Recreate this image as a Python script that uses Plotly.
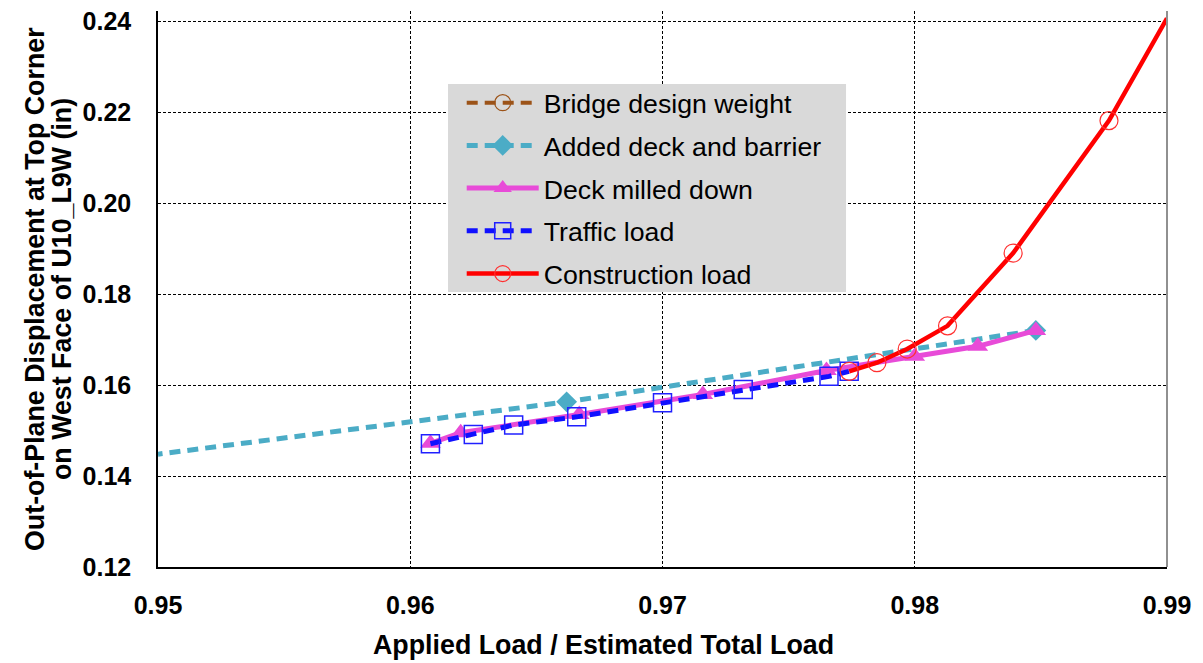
import plotly.graph_objects as go

# Load ratio (x) and out-of-plane displacement in inches (y) for each stage
design_x = [None]
design_y = [None]

# listed right to left; the 0.95 end carries no marker
deck_barrier_x = [0.9848, 0.9662, 0.9500]
deck_barrier_y = [0.1720, 0.1563, 0.1448]
deck_barrier_shown = [True, True, False]

milled_x = [0.9608, 0.9620, 0.9667, 0.9716, 0.9765, 0.9800, 0.9825, 0.9848]
milled_y = [0.1472, 0.1495, 0.1535, 0.1579, 0.1632, 0.1663, 0.1685, 0.1720]

traffic_x = [0.9608, 0.9625, 0.9641, 0.9666, 0.9700, 0.9732, 0.9766, 0.9774]
traffic_y = [0.1471, 0.1491, 0.1512, 0.1530, 0.1561, 0.1590, 0.1619, 0.1630]

construction_x = [0.9774, 0.9785, 0.9797, 0.9813, 0.9839, 0.9877, 0.9900]
construction_y = [0.1630, 0.1649, 0.1679, 0.1730, 0.1890, 0.2181, 0.2406]
construction_shown = [True, True, True, True, True, True, False]

x_ticks = [0.95, 0.96, 0.97, 0.98, 0.99]
y_ticks = [0.12, 0.14, 0.16, 0.18, 0.20, 0.22, 0.24]

FONT = "Liberation Sans, Arial, sans-serif"
DASH = "11px,7px"
CLEAR = "rgba(0,0,0,0)"


def marker_colors(color, shown):
    return [color if s else CLEAR for s in shown]


fig = go.Figure()

fig.add_trace(go.Scatter(
    x=design_x, y=design_y, name="Bridge design weight", legendgroup="a",
    mode="lines+markers",
    line=dict(color="#9c5318", width=4, dash=DASH),
    marker=dict(symbol="circle-open", size=16, color="#9c5318", line=dict(width=1.2)),
))
fig.add_trace(go.Scatter(
    x=deck_barrier_x, y=deck_barrier_y, name="Added deck and barrier", legendgroup="b",
    mode="lines+markers",
    line=dict(color="#4bacc6", width=5, dash=DASH),
    marker=dict(symbol="diamond", size=16,
                color=marker_colors("#4bacc6", deck_barrier_shown), line=dict(width=0)),
))
fig.add_trace(go.Scatter(
    x=milled_x, y=milled_y, name="Deck milled down", legendgroup="c",
    mode="lines+markers",
    line=dict(color="#e84bd8", width=5),
    marker=dict(symbol="triangle-up", size=18, color="#e84bd8"),
))
fig.add_trace(go.Scatter(
    x=traffic_x, y=traffic_y, name="Traffic load", legendgroup="d",
    mode="lines+markers",
    line=dict(color="#1010ff", width=5, dash=DASH),
    marker=dict(symbol="square-open", size=18, color="#2020ff", line=dict(width=1.5)),
))
fig.add_trace(go.Scatter(
    x=construction_x, y=construction_y, name="Construction load", legendgroup="e",
    mode="lines+markers",
    line=dict(color="#ff0000", width=4.5),
    marker=dict(symbol="circle-open", size=18,
                color=marker_colors("#ff3030", construction_shown), line=dict(width=1.2)),
))

title_font = dict(size=26.8, family=FONT, color="black", weight="bold")

fig.update_layout(
    width=1203, height=663,
    margin=dict(l=158, r=36, t=11, b=96, autoexpand=False),
    paper_bgcolor="white", plot_bgcolor="white",
    font=dict(family=FONT, color="black"),
    showlegend=True,
    legend=dict(
        x=0.301, y=0.878, xanchor="left", yanchor="top",
        bgcolor=CLEAR, borderwidth=0,
        font=dict(size=26.7, family=FONT, color="black"),
        itemwidth=72, tracegroupgap=5, itemsizing="trace",
    ),
    xaxis=dict(
        range=[0.95, 0.99], tickvals=x_ticks, tickformat=".2f",
        showgrid=True, gridcolor="black", gridwidth=1, griddash="3px,2px",
        showline=True, linecolor="black", linewidth=1.5,
        zeroline=False, ticks="", ticklabelstandoff=15, automargin=False,
        tickfont=dict(size=25, family=FONT, weight="bold"),
    ),
    yaxis=dict(
        range=[0.12, 0.2422], tickvals=y_ticks, tickformat=".2f",
        showgrid=True, gridcolor="black", gridwidth=1, griddash="3px,2px",
        showline=True, linecolor="black", linewidth=1.5,
        zeroline=False, ticks="", ticklabelstandoff=20, automargin=False,
        tickfont=dict(size=25, family=FONT, weight="bold"),
    ),
    annotations=[
        dict(text="Applied Load / Estimated Total Load", xref="paper", yref="paper",
             x=0.442, y=-0.141, xanchor="center", yanchor="middle",
             showarrow=False, font=title_font),
        dict(text="Out-of-Plane Displacement at Top Corner", xref="paper", yref="paper",
             x=-0.1219, y=0.5, xanchor="center", yanchor="middle", textangle=-90,
             showarrow=False, font=title_font),
        dict(text="on West Face of U10_L9W (in)", xref="paper", yref="paper",
             x=-0.0951, y=0.5, xanchor="center", yanchor="middle", textangle=-90,
             showarrow=False, font=title_font),
    ],
    shapes=[
        dict(type="line", xref="paper", yref="paper", x0=1, x1=1, y0=0, y1=1,
             line=dict(color="#909090", width=2)),
        # grey panel behind the legend entries
        dict(type="rect", xref="paper", yref="paper", layer="above",
             x0=0.2874, x1=0.6819, y0=0.4946, y1=0.8687,
             fillcolor="#d9d9d9", line=dict(width=0)),
    ],
)

fig.write_html("out.html")
